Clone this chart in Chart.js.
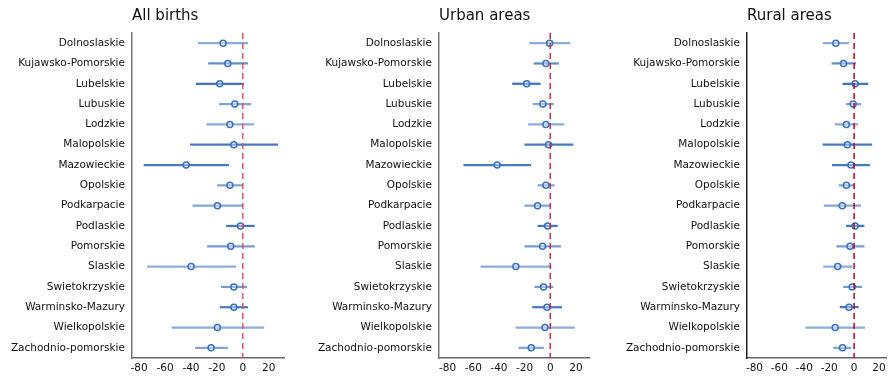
<!DOCTYPE html>
<html>
<head>
<meta charset="utf-8">
<script src="https://cdn.jsdelivr.net/npm/chart.js@4.4.1/dist/chart.umd.min.js"></script>
<style>
  html,body{margin:0;padding:0;background:#fff;overflow:hidden}
  .panel{position:absolute;top:0;height:379px}
</style>
</head>
<body>
<div class="panel" style="left:0;width:295px"><canvas id="c1"></canvas></div>
<div class="panel" style="left:307px;width:294px"><canvas id="c2"></canvas></div>
<div class="panel" style="left:615px;width:277px"><canvas id="c3"></canvas></div>
<script>
const regions = ["Dolnoslaskie","Kujawsko-Pomorskie","Lubelskie","Lubuskie","Lodzkie","Malopolskie","Mazowieckie","Opolskie","Podkarpacie","Podlaskie","Pomorskie","Slaskie","Swietokrzyskie","Warminsko-Mazury","Wielkopolskie","Zachodnio-pomorskie"];
const xTicks = [-80,-60,-40,-20,0,20];

// all births
const allEst  = [-15.2,-11.6,-17.8,-6.2,-10,-6.9,-43.7,-10,-19.6,-1.8,-9.3,-39.9,-6.9,-6.9,-19.6,-24.4];
const allLow  = [-34.3,-26.5,-36,-18,-27.8,-40.4,-76.2,-19.6,-38.6,-12.6,-27.3,-73.6,-16.7,-17.5,-54.8,-36.5];
const allHigh = [3.8,3.8,0.8,6.2,8.5,27,-10.8,0,0,9,9,-5.4,3,3.8,16.2,-11.8];

// urban
const urbEst  = [-0.5,-3.4,-18.4,-5.7,-3.4,-1.3,-41.4,-3.4,-9.9,-2,-6,-26.8,-5.2,-2.6,-4.1,-14.8];
const urbLow  = [-16.1,-12.7,-29.4,-13.3,-16.9,-19.8,-67.4,-9.6,-20,-9.6,-19.8,-54.1,-12,-13.8,-26.8,-24.5];
const urbHigh = [15.4,6.5,-7.8,2.6,10.7,17.7,-15.1,3.1,0.3,5.5,8.1,0.8,2.1,8.9,18.8,-5.2];

// rural
const rurEst  = [-14.7,-8.5,0.8,-0.8,-6.2,-5.4,-2.6,-6.2,-9.5,0.8,-3.3,-13.2,-1.5,-4.1,-15.2,-9.3];
const rurLow  = [-24.8,-17.8,-9,-6.4,-15.2,-25,-17.5,-12.1,-24,-6.2,-14,-24.5,-8.5,-11.3,-38.8,-16.5];
const rurHigh = [-4.4,1.3,11.1,5.4,2.9,14.2,12.4,0,5.2,8,8,-1.8,6,3.4,8.5,-2.6];

// line shading per row
const shade = [0.55,0.75,0.92,0.6,0.55,0.88,0.88,0.6,0.6,0.9,0.65,0.55,0.65,0.88,0.55,0.6];

const refLine = {
  id:'refLine',
  afterDatasetsDraw(chart, args, opts){
    const {ctx, chartArea, scales} = chart;
    const x = scales.x.getPixelForValue(0);
    ctx.save();
    ctx.strokeStyle = opts.color;
    ctx.lineWidth = 1.5;
    ctx.setLineDash([6,4]);
    ctx.beginPath();
    ctx.moveTo(x, chartArea.top);
    ctx.lineTo(x, chartArea.bottom);
    ctx.stroke();
    ctx.restore();
  }
};

const panelTitle = {
  id:'panelTitle',
  afterDraw(chart, args, opts){
    const ctx = chart.ctx;
    ctx.save();
    ctx.font = '15px "DejaVu Sans"';
    ctx.fillStyle = '#111';
    ctx.textBaseline = 'alphabetic';
    ctx.fillText(opts.text, chart.chartArea.left, 20);
    ctx.restore();
  }
};

function makePanel(id, title, est, low, high, xmin, xmax, padRight, refColor, axisColor){
  const lineColors = shade.map(a => 'rgba(45,105,185,' + a + ')');
  new Chart(document.getElementById(id), {
    type:'bar',
    data:{
      labels: regions,
      datasets:[
        {type:'bar', indexAxis:'y', data: low.map((l,i)=>[l, high[i]]),
         backgroundColor: lineColors, barThickness:1.6, borderWidth:0, order:2},
        {type:'line', indexAxis:'y', data: est, showLine:false,
         pointRadius:3, pointBorderWidth:1.5, pointBorderColor:'#3a70c0',
         pointBackgroundColor:'rgba(255,255,255,0.35)', order:1}
      ]
    },
    options:{
      indexAxis:'y',
      responsive:true, maintainAspectRatio:false, animation:false,
      layout:{padding:{top:33, right:padRight, left:0, bottom:0}},
      plugins:{legend:{display:false}, tooltip:{enabled:false}, title:{display:false},
        refLine:{color:refColor}, panelTitle:{text:title}},
      scales:{
        x:{type:'linear', min:xmin, max:xmax,
           afterBuildTicks: s => { s.ticks = xTicks.map(v=>({value:v})); },
           afterFit: s => { s.height = 21; },
           grid:{display:false, drawTicks:false},
           border:{display:true, color:'#666', width:1.5},
           ticks:{padding:4, color:'#111', font:{family:'DejaVu Sans', size:10.5}}},
        y:{type:'category', offset:true,
           afterFit: s => { s.width = 132; },
           grid:{display:false, drawTicks:false},
           border:{display:true, color:axisColor, width:1.5},
           ticks:{padding:7, color:'#111', autoSkip:false, font:{family:'DejaVu Sans', size:10.5}}}
      }
    },
    plugins:[refLine, panelTitle]
  });
}

makePanel('c1','All births', allEst, allLow, allHigh, -85.5, 31.8, 11, 'rgba(215,70,100,0.9)', '#777');
makePanel('c2','Urban areas', urbEst, urbLow, urbHigh, -86.7, 30.2, 12, 'rgba(205,35,60,0.95)', '#777');
makePanel('c3','Rural areas', rurEst, rurLow, rurHigh, -86, 26, 0, '#c00020', '#222');
</script>
</body>
</html>
